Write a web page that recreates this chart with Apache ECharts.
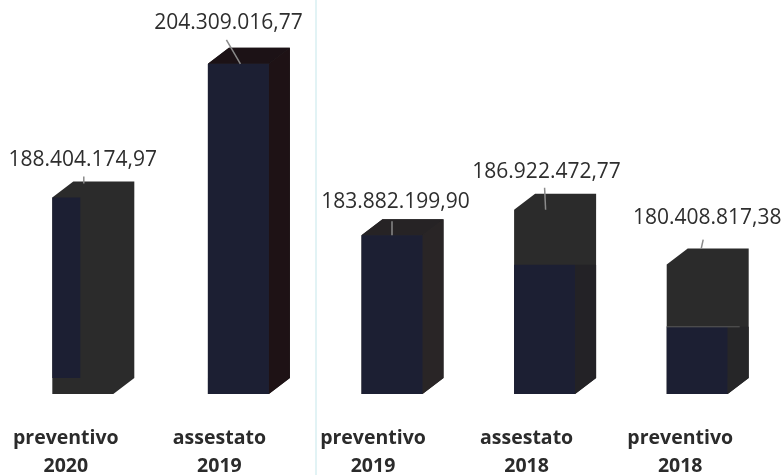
<!DOCTYPE html>
<html><head><meta charset="utf-8">
<style>html,body{margin:0;padding:0;background:#fff}#c{width:784px;height:475px}</style>
<script src="https://cdn.jsdelivr.net/npm/echarts@6/dist/echarts.min.js"></script>
</head><body><div id="c"></div>
<script>
const categories = ['preventivo\n2020','assestato\n2019','preventivo\n2019','assestato\n2018','preventivo\n2018'];
const values = [188404174.97, 204309016.77, 183882199.90, 186922472.77, 180408817.38];
const valueLabels = ['188.404.174,97','204.309.016,77','183.882.199,90','186.922.472,77','180.408.817,38'];
// scan artefact: front face stays navy only up to this value, above it the face is charcoal
const navyUpTo = [188404174.97, 204309016.77, 183882199.90, 180400000, 173000000];

const BASE = 165000000;
const DX = 21, DY = 16, W = 61;
const NAVY = '#1c1f33', CHAR = '#2b2b2b';
const topFill = [CHAR,'#1c1216','#262325',CHAR,CHAR];
const sideFill = [CHAR,'#1e1215','#292526',CHAR,CHAR];
const lowerSide = [CHAR,'#1e1215','#292526','#232226','#262628'];
// layout per bar, in px
const barShift = [0,2,2,1,0];
const labelDX = [0,-10,3.5,2,10], labelDY = [-37,-41,-33,-38,-47];
const lineA = [[1,-21],[-12,-24],[0,-14],[0,-22],[6,-25]], lineB = [[1,-14],[2,0],[0,0],[1,0],[4,-16]];

const chart = echarts.init(document.getElementById('c'), null, {renderer:'canvas'});
chart.setOption({
  animation:false,
  grid:{left:6,right:10,top:0,bottom:81,outerBoundsMode:'none'},
  xAxis:{type:'category',data:categories,axisLine:{show:false},axisTick:{show:false},
    axisLabel:{interval:0,margin:30,padding:[0,34,0,0],color:'#2b2b2b',fontFamily:'Open Sans',fontWeight:'bold',fontSize:19.5,lineHeight:28}},
  yAxis:{type:'value',min:BASE,max:211900000,show:false},
  graphic:[{type:'line',silent:true,z:-1,shape:{x1:316,y1:0,x2:316,y2:475},style:{stroke:'#e2f3f5',lineWidth:2}}],
  series:[{type:'custom',data:values.map((v,i)=>[i,v,navyUpTo[i]]),clip:false,
    renderItem(p,api){
      const i=api.value(0), c=api.coord([i,api.value(1)]), b=api.coord([i,BASE])[1], n=api.coord([i,api.value(2)])[1];
      const cx=c[0]+barShift[i], x=cx-W/2, y=c[1];
      const poly=(pts,fill)=>({type:'polygon',shape:{points:pts},style:{fill}});
      const rect=(x0,y0,w,h,fill)=>({type:'rect',shape:{x:x0,y:y0,width:w,height:h},style:{fill}});
      const kids=[
        // whole silhouette in charcoal, so faces of the same colour show no seam
        poly([[x,y],[x+DX,y-DY],[x+W+DX,y-DY],[x+W+DX,b-DY],[x+W,b],[x,b]],CHAR)
      ];
      if(topFill[i]!==CHAR) kids.push(poly([[x,y],[x+DX,y-DY],[x+W+DX,y-DY],[x+W,y]],topFill[i]));
      if(sideFill[i]!==CHAR) kids.push(poly([[x+W,y],[x+W+DX,y-DY],[x+W+DX,b-DY],[x+W,b]],sideFill[i]));
      kids.push(rect(x,n,i===0?28:W,(i===0?b-16:b)-n,NAVY));
      if(i>=3) kids.push(poly([[x+W,n],[x+W+DX,n],[x+W+DX,b-DY],[x+W,b]],lowerSide[i]));
      if(i===4) kids.push({type:'line',shape:{x1:x,y1:n,x2:x+W+12,y2:n},style:{stroke:'#5a5a5a',lineWidth:1}});
      kids.push({type:'line',shape:{x1:cx+lineA[i][0],y1:y+lineA[i][1],x2:cx+lineB[i][0],y2:y+lineB[i][1]},style:{stroke:'#8a8a8a',lineWidth:1.5}});
      kids.push({type:'text',style:{x:cx+labelDX[i],y:y+labelDY[i],text:valueLabels[i],align:'center',verticalAlign:'middle',fill:'#2e2e2e',font:'21px "Open Sans"'}});
      return {type:'group',children:kids};
    }}]
});
</script></body></html>
